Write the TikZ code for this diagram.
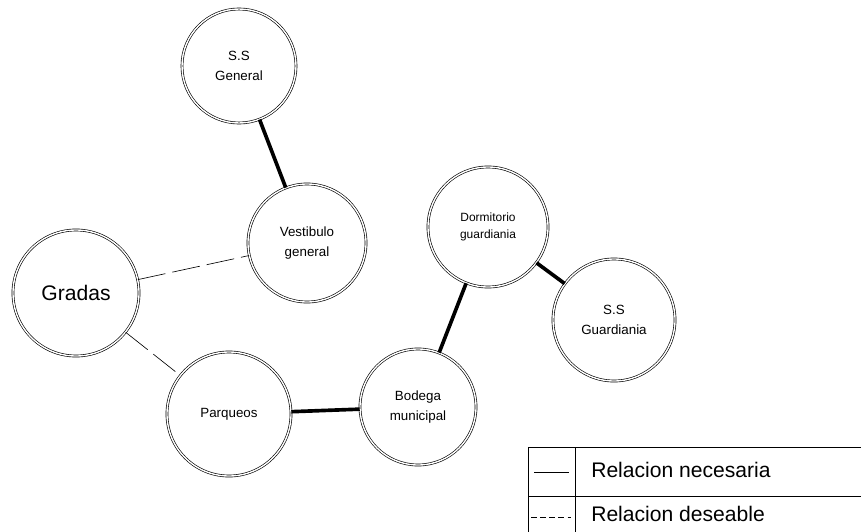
\documentclass[tikz,border=0pt]{standalone}
\usepackage{fontspec}
\setmainfont{Liberation Sans}
\usetikzlibrary{positioning}
\begin{document}
\begin{tikzpicture}[x=0.025cm,y=-0.025cm,
  zona/.style={circle,draw,double,double distance=1pt,line width=0.45pt,align=center,inner sep=0pt,font=\fontsize{9.5}{14}\selectfont},
  nec/.style={line width=2.6pt},
  des/.style={line width=0.45pt,dash pattern=on 20pt off 5pt},
  ley/.style={anchor=west,inner sep=0pt,font=\fontsize{15}{18}\selectfont}]
  \useasboundingbox (0,0) rectangle (861,532);
  % zonas
  \node[zona,minimum size=2.85cm](ssg) at (239,66){S.S\\ General};
  \node[zona,minimum size=2.95cm](ves) at (307,243){Vestibulo\\ general};
  \node[zona,minimum size=3.15cm,font=\fontsize{15}{18}\selectfont](gra) at (76,293){Gradas};
  \node[zona,minimum size=3.1cm](par) at (229,414){Parqueos};
  \node[zona,minimum size=2.9cm](bod) at (418,407){Bodega\\ municipal};
  \node[zona,minimum size=3.0cm,font=\fontsize{8.5}{12.5}\selectfont](dor) at (488,227){Dormitorio\\ guardiania};
  \node[zona,minimum size=3.05cm](ssgu) at (614,320){S.S\\ Guardiania};
  % relaciones
  \draw[nec](ssg)--(ves);
  \draw[nec](par)--(bod);
  \draw[nec](bod)--(dor);
  \draw[nec](dor)--(ssgu);
  \draw[des](gra)--(ves);
  \draw[des](gra)--(par);
  % leyenda
  \coordinate(l1) at (528,447);
  \coordinate(l2) at (861,447);
  \draw[line width=0.6pt](l1)--(l2);
  \draw[line width=0.6pt](528,496)--(861,496);
  \draw[line width=0.6pt](l1)--(528,532);
  \draw[line width=0.6pt](575,447)--(575,532);
  \draw[line width=0.5pt](534,472)--(569,472);
  \draw[line width=0.5pt,dash pattern=on 4pt off 2.5pt](531,517)--(571,517);
  \node[ley](tn) at (591,470){Relacion necesaria};
  \node[ley](td) at (591,514){Relacion deseable};
\end{tikzpicture}
\end{document}
